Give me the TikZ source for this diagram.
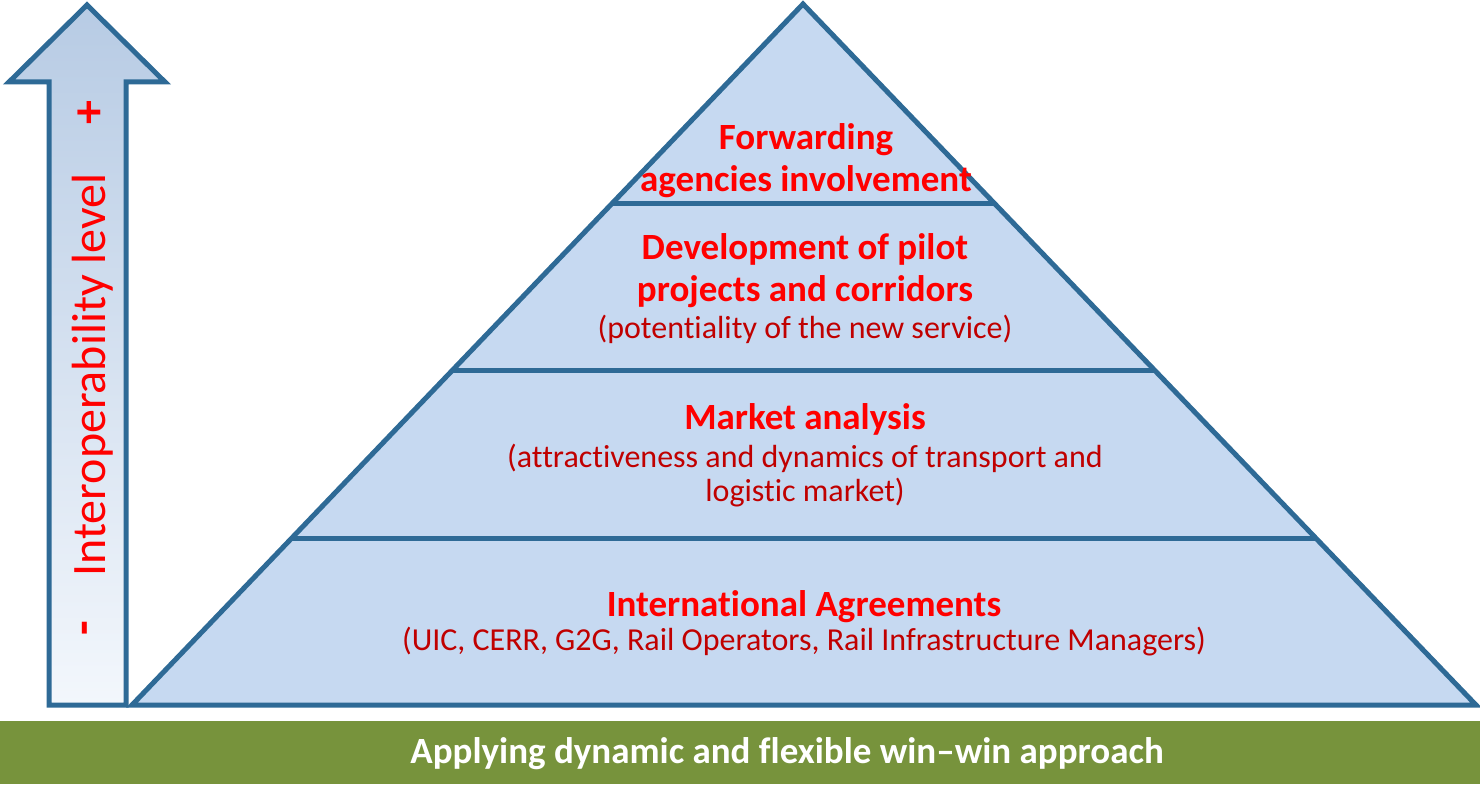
\documentclass[tikz,border=0pt]{standalone}
\usepackage{fontspec}
\setmainfont{Carlito}[Ligatures={TeX,NoCommon}]
\usepackage{tikz}
\usetikzlibrary{calc,positioning}
\definecolor{edgeblue}{HTML}{2E6A96}
\definecolor{pyrfill}{HTML}{C6D9F1}
\definecolor{arrowtop}{HTML}{B7CBE4}
\definecolor{arrowbot}{HTML}{F3F7FC}
\definecolor{barGreen}{HTML}{77933C}
\definecolor{subred}{HTML}{C00000}
\tikzstyle{layer} = [draw=edgeblue,line width=5pt,line join=miter]
\tikzstyle{heading} = [text=red,font=\fontsize{37}{42}\selectfont\bfseries,align=center,inner sep=0]
\tikzstyle{detail} = [text=subred,font=\fontsize{32}{34}\selectfont,align=center,inner sep=0]
\tikzstyle{levelmark} = [text=red,font=\fontsize{48}{52}\selectfont,rotate=90,inner sep=0]

\begin{document}
\begin{tikzpicture}[x=1pt,y=-1pt]
      \useasboundingbox (0,0) rectangle (1480,786);
      % green bar
      \fill[barGreen] (0,721) rectangle (1480,784);
      \node[text=white,font=\fontsize{37}{40}\selectfont\bfseries] (approach) at (787,754) {Applying dynamic and flexible win--win approach};
      % arrow
      \draw[layer,top color=arrowtop,bottom color=arrowbot] (87,5) -- (165,82) -- (126,82) -- (126,705) -- (49,705) -- (49,82) -- (9,82) -- cycle;
      \node[levelmark] (level) at (93,375) {Interoperability level};
      \node[levelmark,font=\fontsize{48}{52}\selectfont\bfseries] (plus) at (91,113) {+};
      \node[levelmark,font=\fontsize{48}{52}\selectfont\bfseries] (minus) at (90,628) {-};
      % pyramid
      \coordinate (apex) at (803,4);
      \coordinate (bl) at (132,705);
      \coordinate (br) at (1476,705);
      \draw[layer,fill=pyrfill] (apex) -- (br) -- (bl) -- cycle;
      \coordinate (l1) at ($(apex)!0.2849!(bl)$);
      \coordinate (r1) at ($(apex)!0.2849!(br)$);
      \coordinate (l2) at ($(apex)!0.5228!(bl)$);
      \coordinate (r2) at ($(apex)!0.5228!(br)$);
      \coordinate (l3) at ($(apex)!0.7621!(bl)$);
      \coordinate (r3) at ($(apex)!0.7621!(br)$);
      \draw[layer] (l1) -- (r1);
      \draw[layer] (l2) -- (r2);
      \draw[layer] (l3) -- (r3);
      % texts
      \node[heading] (forward) at (806,161) {Forwarding\\agencies involvement};
      \node[heading] (pilot) at (805,271) {Development of pilot\\projects and corridors};
      \node[detail] (pilotsub) at (805,329) {(potentiality of the new service)};
      \node[heading] (market) at (805,419) {Market analysis};
      \node[detail] (marketsub) at (805,476) {(attractiveness and dynamics of transport and\\logistic market)};
      \node[heading] (agree) at (804,607) {International Agreements};
      \node[detail] (agreesub) at (804,642) {(UIC, CERR, G2G, Rail Operators, Rail Infrastructure Managers)};
    \end{tikzpicture}
\end{document}
